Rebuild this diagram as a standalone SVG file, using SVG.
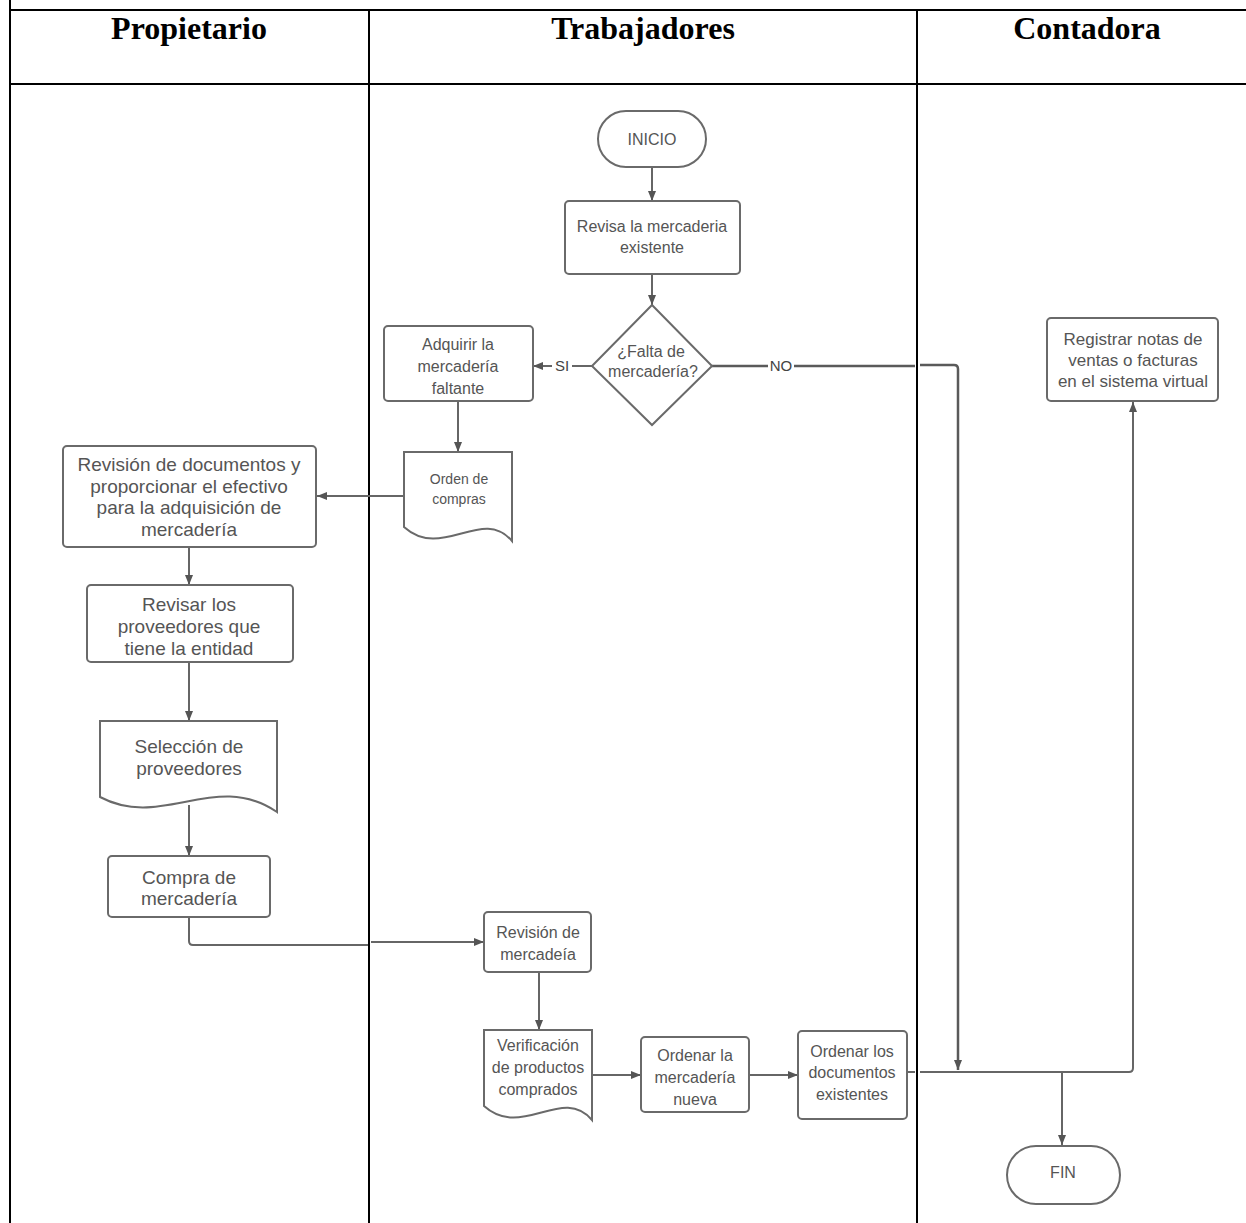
<svg xmlns="http://www.w3.org/2000/svg" width="1246" height="1223" viewBox="0 0 1246 1223">
<style>
.grid{stroke:#000;stroke-width:2;fill:none}
.hdr{font-family:"Liberation Serif","Times New Roman",serif;font-weight:bold;font-size:32px;fill:#000;text-anchor:middle}
.shp{fill:#fff;stroke:#6a6a6a;stroke-width:2}
.t{font-family:"Liberation Sans",Arial,sans-serif;fill:#555;text-anchor:middle;font-size:16px}
.tb{font-size:19px}
.ts{font-size:14px}
.tr{font-size:17px}
.c{fill:none;stroke:#666;stroke-width:2}
.cd{fill:none;stroke:#5a5a5a;stroke-width:2.5}
.lbl{font-family:"Liberation Sans",Arial,sans-serif;fill:#444;font-size:15px;text-anchor:middle}
</style>
<defs>
<marker id="ah" markerUnits="userSpaceOnUse" markerWidth="10" markerHeight="8" refX="10" refY="4" orient="auto">
<path d="M0,0 L10,4 L0,8 z" fill="#555"/>
</marker>
</defs>
<rect width="1246" height="1223" fill="#fff"/>
<g id="table">
<line class="grid" x1="10" y1="0" x2="10" y2="1223"/>
<line class="grid" x1="10" y1="10" x2="1246" y2="10"/>
<line class="grid" x1="10" y1="84" x2="1246" y2="84"/>
<line class="grid" x1="369" y1="10" x2="369" y2="1223"/>
<line class="grid" x1="917" y1="10" x2="917" y2="1223"/>
<text class="hdr" x="189" y="39">Propietario</text>
<text class="hdr" x="643" y="39">Trabajadores</text>
<text class="hdr" x="1087" y="39">Contadora</text>
</g>
<g id="connectors">
<path class="c" d="M652,167 V201" marker-end="url(#ah)"/>
<path class="c" d="M652,274 V305" marker-end="url(#ah)"/>
<path class="c" d="M592,366 H533" marker-end="url(#ah)"/>
<path class="cd" d="M712,366 H915"/>
<path class="cd" d="M920,365 H954 Q958,365 958,369 V1070" marker-end="url(#ah)"/>
<path class="c" d="M458,401 V452" marker-end="url(#ah)"/>
<path class="c" d="M404,496 H317" marker-end="url(#ah)"/>
<path class="c" d="M189,547 V585" marker-end="url(#ah)"/>
<path class="c" d="M189,662 V721" marker-end="url(#ah)"/>
<path class="c" d="M189,805 V856" marker-end="url(#ah)"/>
<path class="c" d="M189,917 V941 Q189,945 193,945 H368"/>
<path class="c" d="M371,942 H484" marker-end="url(#ah)"/>
<path class="c" d="M539,972 V1030" marker-end="url(#ah)"/>
<path class="c" d="M592,1075 H641" marker-end="url(#ah)"/>
<path class="c" d="M749,1075 H798" marker-end="url(#ah)"/>
<path class="c" d="M907,1072 H915"/>
<path class="c" d="M920,1072 H1129 Q1133,1072 1133,1068 V402" marker-end="url(#ah)"/>
<path class="c" d="M1062,1072 V1145" marker-end="url(#ah)"/>
<rect x="552" y="358" width="20" height="16" fill="#fff"/>
<text class="lbl" x="562" y="371">SI</text>
<rect x="768" y="358" width="26" height="16" fill="#fff"/>
<text class="lbl" x="781" y="371">NO</text>
</g>
<g id="inicio">
<rect class="shp" x="598" y="111" width="108" height="56" rx="28"/>
<text class="t" x="652" y="145">INICIO</text>
</g>
<g id="revisa">
<rect class="shp" x="565" y="201" width="175" height="73" rx="4"/>
<text class="t" x="652" y="232">Revisa la mercaderia</text>
<text class="t" x="652" y="253">existente</text>
</g>
<g id="falta">
<path class="shp" d="M652,305 L712,366 L652,425 L592,366 Z"/>
<text class="t" x="651" y="357">¿Falta de</text>
<text class="t" x="653" y="377">mercadería?</text>
</g>
<g id="adquirir">
<rect class="shp" x="384" y="326" width="149" height="75" rx="4"/>
<text class="t" x="458" y="350">Adquirir la</text>
<text class="t" x="458" y="372">mercadería</text>
<text class="t" x="458" y="394">faltante</text>
</g>
<g id="orden">
<path class="shp" d="M404,452 H512 V541 C482,506 442,561 404,527 Z"/>
<text class="t ts" x="459" y="484">Orden de</text>
<text class="t ts" x="459" y="504">compras</text>
</g>
<g id="revision-docs">
<rect class="shp" x="63" y="446" width="253" height="101" rx="4"/>
<text class="t tb" x="189" y="471">Revisión de documentos y</text>
<text class="t tb" x="189" y="493">proporcionar el efectivo</text>
<text class="t tb" x="189" y="514">para la adquisición de</text>
<text class="t tb" x="189" y="536">mercadería</text>
</g>
<g id="revisar-proveedores">
<rect class="shp" x="87" y="585" width="206" height="77" rx="4"/>
<text class="t tb" x="189" y="611">Revisar los</text>
<text class="t tb" x="189" y="633">proveedores que</text>
<text class="t tb" x="189" y="655">tiene la entidad</text>
</g>
<g id="seleccion">
<path class="shp" d="M100,721 H277 V812 C215,770 162,830 100,797 Z"/>
<text class="t tb" x="189" y="753">Selección de</text>
<text class="t tb" x="189" y="775">proveedores</text>
</g>
<g id="compra">
<rect class="shp" x="108" y="856" width="162" height="61" rx="4"/>
<text class="t tb" x="189" y="884">Compra de</text>
<text class="t tb" x="189" y="905">mercadería</text>
</g>
<g id="revision-mercaderia">
<rect class="shp" x="484" y="912" width="107" height="60" rx="4"/>
<text class="t" x="538" y="938">Revisión de</text>
<text class="t" x="538" y="960">mercadeía</text>
</g>
<g id="verificacion">
<path class="shp" d="M484,1030 H592 V1120 C562,1085 522,1140 484,1106 Z"/>
<text class="t" x="538" y="1051">Verificación</text>
<text class="t" x="538" y="1073">de productos</text>
<text class="t" x="538" y="1095">comprados</text>
</g>
<g id="ordenar-mercaderia">
<rect class="shp" x="641" y="1037" width="108" height="75" rx="4"/>
<text class="t" x="695" y="1061">Ordenar la</text>
<text class="t" x="695" y="1083">mercadería</text>
<text class="t" x="695" y="1105">nueva</text>
</g>
<g id="ordenar-documentos">
<rect class="shp" x="798" y="1031" width="109" height="88" rx="4"/>
<text class="t" x="852" y="1057">Ordenar los</text>
<text class="t" x="852" y="1078">documentos</text>
<text class="t" x="852" y="1100">existentes</text>
</g>
<g id="registrar">
<rect class="shp" x="1047" y="318" width="171" height="83" rx="4"/>
<text class="t tr" x="1133" y="345">Registrar notas de</text>
<text class="t tr" x="1133" y="366">ventas o facturas</text>
<text class="t tr" x="1133" y="387">en el sistema virtual</text>
</g>
<g id="fin">
<rect class="shp" x="1007" y="1146" width="113" height="58" rx="29"/>
<text class="t" x="1063" y="1178">FIN</text>
</g>
</svg>
